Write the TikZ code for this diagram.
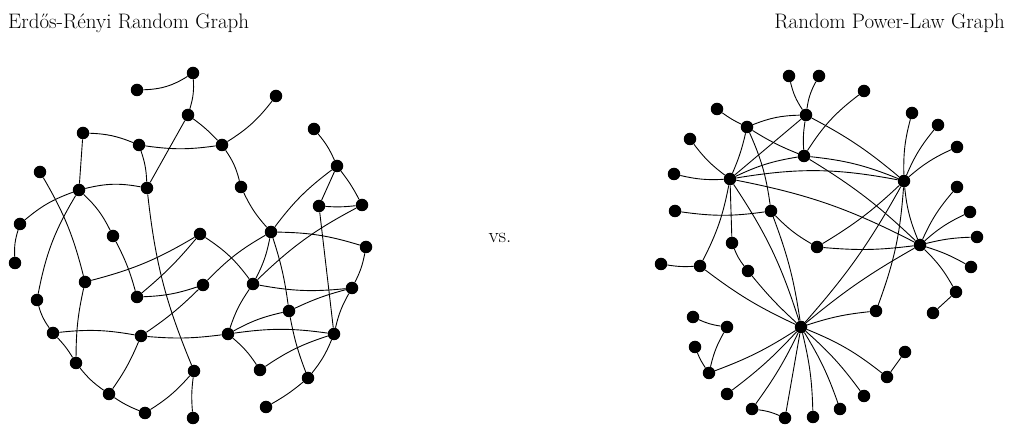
\documentclass[tikz,border=0pt]{standalone}
\usepackage{fontspec}
\begin{document}
\begin{tikzpicture}[x=1pt,y=1pt,
  dot/.style={circle,fill=black,inner sep=0pt,minimum size=12.5pt},
  ed/.style={line width=0.9pt},
  ttl/.style={font=\fontsize{21}{25}\selectfont,inner sep=0pt}]
\useasboundingbox (0,0) rectangle (1010,-427);

% titles
\node[ttl,anchor=base west] (tl) at (8,-29) {Erdős-Rényi Random Graph};
\node[ttl,anchor=base east] (tr) at (1005,-29) {Random Power-Law Graph};
\node[ttl] (vs) at (500,-238) {vs.};

% left graph: vertices
\foreach \n/\x/\y in {
 1/193/73, 2/137/90, 3/188/115, 4/83/133, 5/139/145, 6/222/145, 7/276/96,
 8/40/172, 9/79/190, 10/147/188, 11/314/129, 12/337/166, 13/319/206,
 14/362/205, 15/241/187, 16/20/224, 17/113/236, 18/200/234, 19/271/232,
 20/366/247, 21/15/263, 22/85/282, 23/137/297, 24/203/285, 25/253/284,
 26/352/288, 27/37/300, 28/289/311, 29/53/333, 30/141/336, 31/228/334,
 32/334/334, 33/76/363, 34/194/371, 35/260/370, 36/308/378, 37/109/394,
 38/145/413, 39/193/418, 40/266/407}
  \node[dot] (L\n) at (\x,-\y) {};

% left graph: edges (last value: bend, positive to the left)
\foreach \a/\b/\c in {
 2/1/-15, 1/3/10, 3/6/5, 3/10/0, 4/5/10, 4/9/0, 5/6/-8, 5/10/8, 6/7/-10,
 6/15/10, 9/10/12, 8/22/8, 9/16/-10, 9/27/-10, 9/17/10, 10/34/-8,
 11/12/8, 12/13/0, 12/14/5, 12/19/-8, 13/14/-5, 13/32/0, 15/19/-8,
 16/21/-10, 17/23/6, 18/22/8, 18/23/5, 18/25/10, 19/24/-8, 19/20/8,
 19/25/8, 19/28/5, 23/24/-8, 24/30/5, 25/14/8, 25/26/-8, 25/31/-8,
 20/26/8, 26/28/-5, 26/32/-8, 27/29/-10, 29/30/8, 29/33/6, 22/33/-6,
 30/31/-6, 30/37/6, 31/28/8, 31/32/8, 31/35/8, 35/32/8, 28/36/-5,
 36/32/-8, 36/40/5, 34/39/-6, 34/38/8, 33/37/-8, 37/38/-6}
  \draw[ed] (L\a) to[bend left=\c] (L\b);

% right graph: vertices
\foreach \n/\x/\y in {
 1/789/76, 2/819/76, 3/806/115, 4/717/109, 5/747/127, 6/690/139,
 7/804/156, 8/864/91, 9/674/174, 10/730/179, 11/912/113, 12/938/125,
 13/957/147, 14/904/181, 15/675/211, 16/771/211, 17/957/187, 18/970/212,
 19/732/243, 20/817/247, 21/920/245, 22/977/237, 23/661/264, 24/700/266,
 25/748/271, 26/971/267, 27/956/292, 28/933/313, 29/876/311, 30/801/327,
 31/693/317, 32/727/327, 33/695/347, 34/709/373, 35/905/352, 36/727/394,
 37/887/377, 38/752/409, 39/864/396, 40/785/418, 41/840/409, 42/813/417}
  \node[dot] (R\n) at (\x,-\y) {};

% right graph: edges
\foreach \a/\b/\c in {
 1/3/-10, 2/3/-10, 4/5/-5, 5/3/10, 5/7/-5, 5/10/5, 5/16/8, 3/7/-6,
 3/10/0, 3/14/6, 8/7/-10, 6/10/-8, 9/10/-8, 7/10/-8, 7/14/8, 7/21/6,
 10/14/10, 10/21/8, 10/24/8, 10/19/0, 10/30/8, 11/14/-8, 12/14/-8,
 13/14/-8, 14/20/6, 14/30/6, 14/29/8, 14/21/-8, 15/16/-8, 16/20/-8,
 16/30/6, 17/21/-8, 18/21/-8, 22/21/-6, 26/21/-6, 27/21/-8, 27/28/0,
 20/21/-6, 21/30/-5, 19/25/-8, 23/24/-6, 24/30/-6, 25/30/-4, 29/30/-6,
 31/32/-8, 32/34/-8, 33/34/-6, 34/30/-6, 36/30/-5, 38/30/-5, 38/40/8,
 30/40/0, 30/42/6, 30/41/6, 30/39/6, 30/37/8, 35/37/0}
  \draw[ed] (R\a) to[bend left=\c] (R\b);
\end{tikzpicture}
\end{document}
